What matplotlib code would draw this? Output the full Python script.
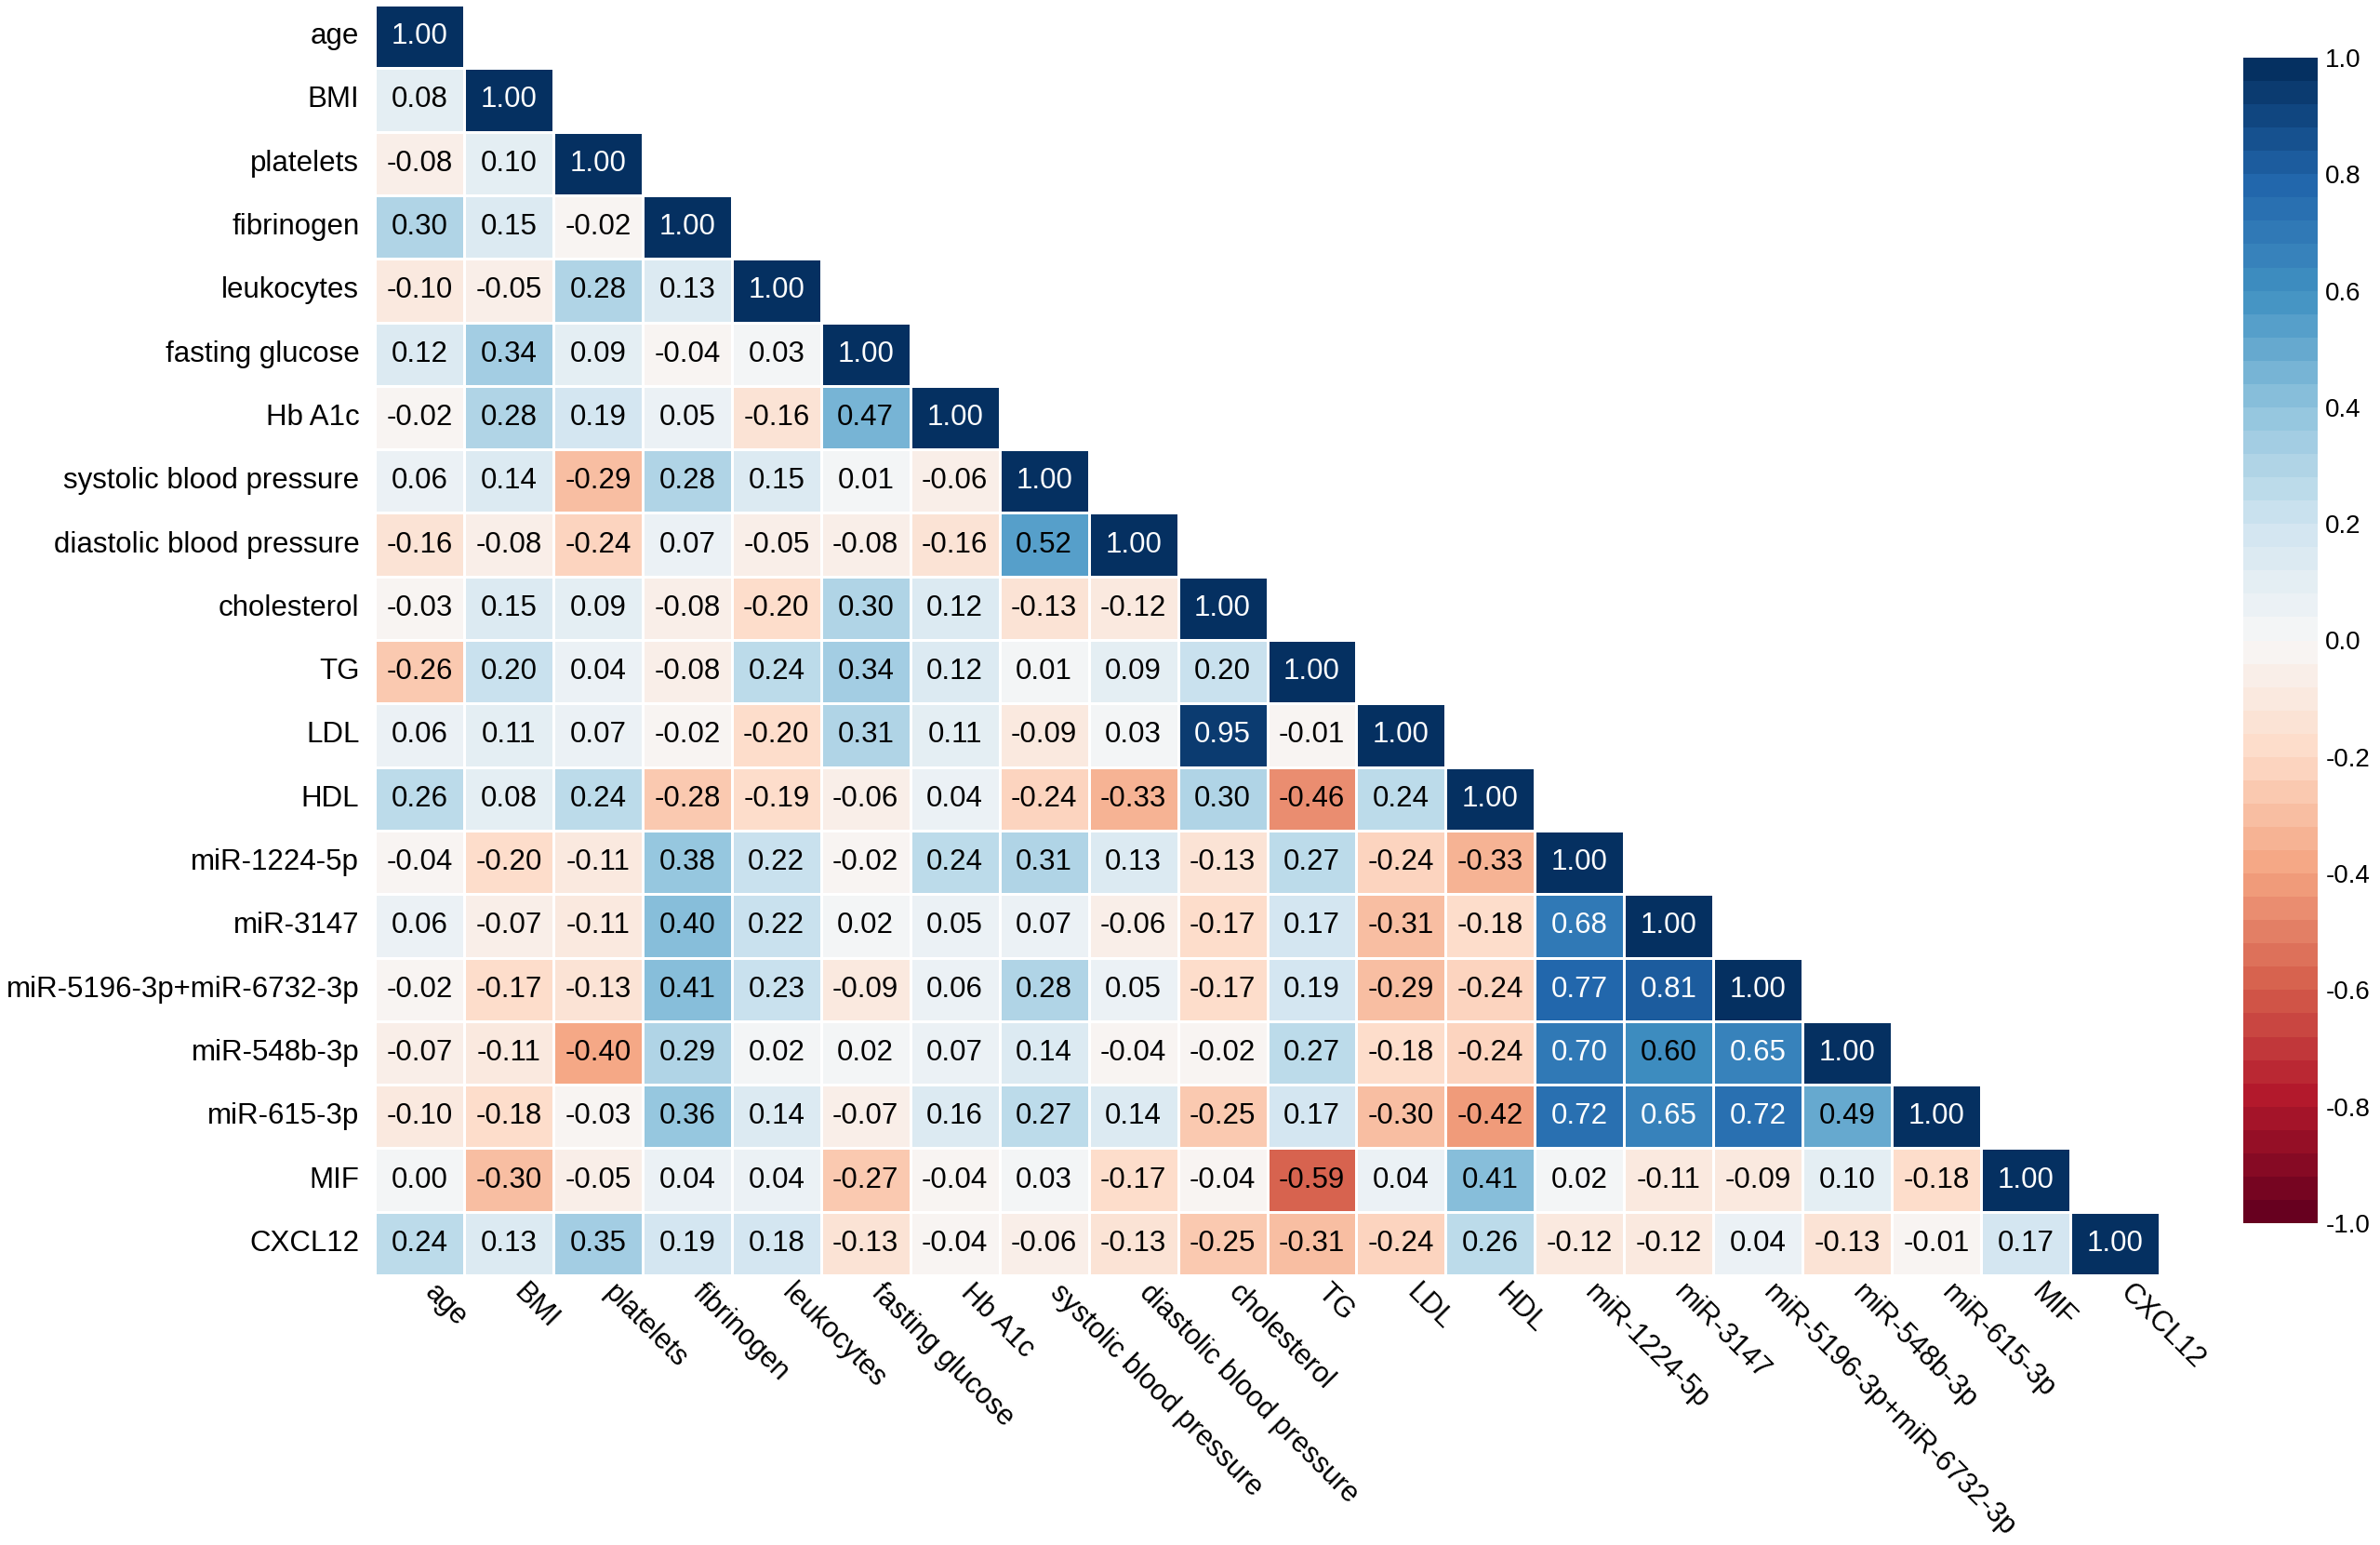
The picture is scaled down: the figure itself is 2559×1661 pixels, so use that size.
import numpy as np
import matplotlib
matplotlib.use("Agg")
import matplotlib.pyplot as plt
from matplotlib.ticker import FixedLocator, FormatStrFormatter
import seaborn as sns

plt.rcParams['font.family'] = ['Liberation Sans', 'DejaVu Sans']
plt.rcParams['axes.unicode_minus'] = False

labels = ["age", "BMI", "platelets", "fibrinogen", "leukocytes", "fasting glucose",
          "Hb A1c", "systolic blood pressure", "diastolic blood pressure", "cholesterol",
          "TG", "LDL", "HDL", "miR-1224-5p", "miR-3147", "miR-5196-3p+miR-6732-3p",
          "miR-548b-3p", "miR-615-3p", "MIF", "CXCL12"]

r_age = [1.00]
r_bmi = [0.08, 1.00]
r_plt = [-0.08, 0.10, 1.00]
r_fib = [0.30, 0.15, -0.02, 1.00]
r_leu = [-0.10, -0.05, 0.28, 0.13, 1.00]
r_glu = [0.12, 0.34, 0.09, -0.04, 0.03, 1.00]
r_hba = [-0.02, 0.28, 0.19, 0.05, -0.16, 0.47, 1.00]
r_sys = [0.06, 0.14, -0.29, 0.28, 0.15, 0.01, -0.06, 1.00]
r_dia = [-0.16, -0.08, -0.24, 0.07, -0.05, -0.08, -0.16, 0.52, 1.00]
r_cho = [-0.03, 0.15, 0.09, -0.08, -0.20, 0.30, 0.12, -0.13, -0.12, 1.00]
r_tg = [-0.26, 0.20, 0.04, -0.08, 0.24, 0.34, 0.12, 0.01, 0.09, 0.20, 1.00]
r_ldl = [0.06, 0.11, 0.07, -0.02, -0.20, 0.31, 0.11, -0.09, 0.03, 0.95, -0.01, 1.00]
r_hdl = [0.26, 0.08, 0.24, -0.28, -0.19, -0.06, 0.04, -0.24, -0.33, 0.30, -0.46, 0.24, 1.00]
r_m1224 = [-0.04, -0.20, -0.11, 0.38, 0.22, -0.02, 0.24, 0.31, 0.13, -0.13, 0.27, -0.24, -0.33, 1.00]
r_m3147 = [0.06, -0.07, -0.11, 0.40, 0.22, 0.02, 0.05, 0.07, -0.06, -0.17, 0.17, -0.31, -0.18, 0.68, 1.00]
r_m5196 = [-0.02, -0.17, -0.13, 0.41, 0.23, -0.09, 0.06, 0.28, 0.05, -0.17, 0.19, -0.29, -0.24, 0.77, 0.81, 1.00]
r_m548 = [-0.07, -0.11, -0.40, 0.29, 0.02, 0.02, 0.07, 0.14, -0.04, -0.02, 0.27, -0.18, -0.24, 0.70, 0.60, 0.65, 1.00]
r_m615 = [-0.10, -0.18, -0.03, 0.36, 0.14, -0.07, 0.16, 0.27, 0.14, -0.25, 0.17, -0.30, -0.42, 0.72, 0.65, 0.72, 0.49, 1.00]
r_mif = [0.00, -0.30, -0.05, 0.04, 0.04, -0.27, -0.04, 0.03, -0.17, -0.04, -0.59, 0.04, 0.41, 0.02, -0.11, -0.09, 0.10, -0.18, 1.00]
r_cxcl = [0.24, 0.13, 0.35, 0.19, 0.18, -0.13, -0.04, -0.06, -0.13, -0.25, -0.31, -0.24, 0.26, -0.12, -0.12, 0.04, -0.13, -0.01, 0.17, 1.00]

rows = [r_age, r_bmi, r_plt, r_fib, r_leu, r_glu, r_hba, r_sys, r_dia, r_cho, r_tg,
        r_ldl, r_hdl, r_m1224, r_m3147, r_m5196, r_m548, r_m615, r_mif, r_cxcl]

cbar_ticks = [-1.0, -0.8, -0.6, -0.4, -0.2, 0.0, 0.2, 0.4, 0.6, 0.8, 1.0]

n = len(labels)
M = np.full((n, n), np.nan)
for i, r in enumerate(rows):
    M[i, :len(r)] = r
mask = np.isnan(M)

W, H = 2559, 1661
fig = plt.figure(figsize=(W / 100, H / 100), dpi=100)
ax = fig.add_axes([403 / W, 1 - 1371 / H, (2322 - 403) / W, (1371 - 5) / H])
cax = fig.add_axes([2412 / W, 1 - 1315 / H, 80 / W, (1315 - 62) / H])

cmap = plt.get_cmap('RdBu', 50)
sns.heatmap(M, mask=mask, cmap=cmap, vmin=-1, vmax=1, ax=ax, cbar_ax=cax,
            annot=True, fmt=".2f", annot_kws={"fontsize": 22.5},
            linewidths=1.0, linecolor='white',
            xticklabels=labels, yticklabels=labels)

for t in ax.texts:
    v = float(t.get_text())
    t.set_color('white' if v > 0.62 else 'black')

ax.tick_params(axis='y', length=0, labelsize=22.5, pad=12)
ax.tick_params(axis='x', length=0, labelsize=22, pad=3)
plt.setp(ax.get_yticklabels(), rotation=0, ha='right', va='center')
plt.setp(ax.get_xticklabels(), rotation=-45, ha='left', va='top', rotation_mode='default')
ax.set_xlim(0, n)
ax.set_ylim(n, 0)

cax.yaxis.set_major_locator(FixedLocator(cbar_ticks))
cax.yaxis.set_major_formatter(FormatStrFormatter('%.1f'))
cax.tick_params(length=0, labelsize=20, pad=6)
for s in cax.spines.values():
    s.set_visible(False)

fig.savefig("out.png", dpi=100)
